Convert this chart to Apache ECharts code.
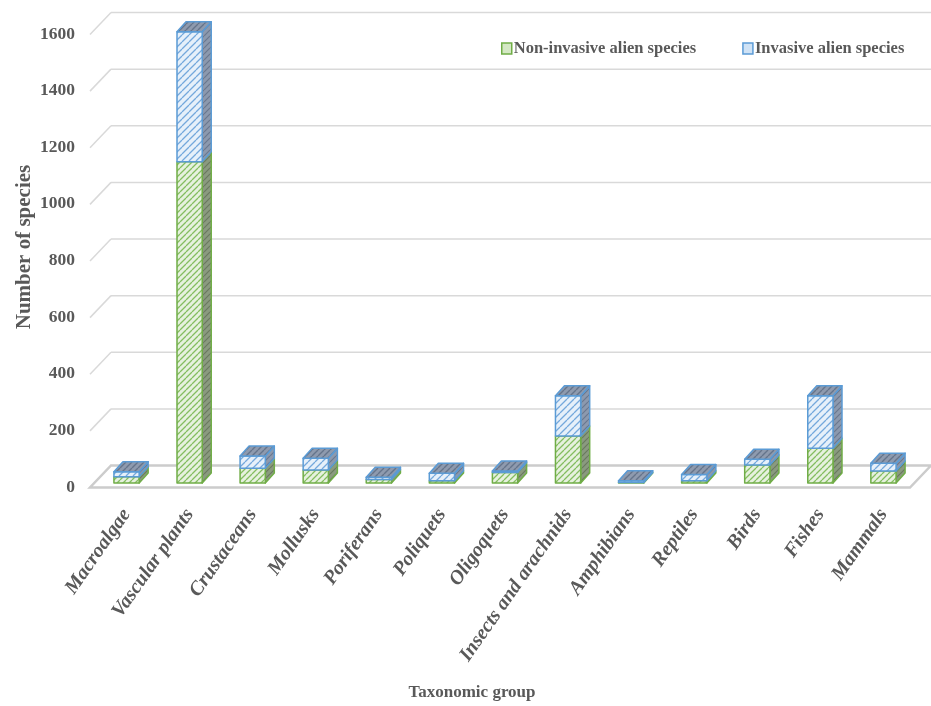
<!DOCTYPE html>
<html>
<head>
<meta charset="utf-8">
<title>Alien species by taxonomic group</title>
<script src="https://cdn.jsdelivr.net/npm/echarts@6/dist/echarts.min.js"></script>
<style>
  html, body { margin: 0; padding: 0; background: #ffffff; }
  #chart { width: 931px; height: 706px; }
</style>
</head>
<body>
<div id="chart"></div>
<script>
// ---- data ----
const categories = ['Macroalgae', 'Vascular plants', 'Crustaceans', 'Mollusks', 'Poriferans',
  'Poliquets', 'Oligoquets', 'Insects and arachnids', 'Amphibians', 'Reptiles', 'Birds',
  'Fishes', 'Mammals'];
const nonInvasive = [22, 1135, 52, 46, 12, 8, 37, 166, 2, 8, 64, 123, 42];
const invasive    = [18, 459, 43, 41, 8, 26, 5, 142, 6, 22, 20, 185, 28];
const yTicks = [0, 200, 400, 600, 800, 1000, 1200, 1400, 1600];
const seriesNames = ['Non-invasive alien species', 'Invasive alien species'];

// ---- pseudo-3D geometry (pixel offsets relative to the bar plane) ----
const DEPTH = [9, -10];     // bar front face -> bar back face
const FRONT = [-5, 4.5];    // bar plane -> floor front edge
const BACK  = [16, -17.5];  // bar plane -> back wall

const FONT = "'Liberation Serif', 'Times New Roman', serif";
const TEXT = '#595959';

function hatch(bg, line, size, width) {
  const c = document.createElement('canvas');
  c.width = c.height = size;
  const g = c.getContext('2d');
  g.fillStyle = bg;
  g.fillRect(0, 0, size, size);
  g.strokeStyle = line;
  g.lineWidth = width;
  g.beginPath();
  for (let k = -1; k <= 1; k++) {
    g.moveTo(k * size, size);
    g.lineTo(k * size + size, 0);
  }
  g.stroke();
  return { image: c, repeat: 'repeat' };
}

const fills = {
  green: {
    front: hatch('#e6f1de', '#84bd60', 6, 1.3),
    side: hatch('#8a9a7f', '#6a795f', 6, 1.2),
    top: hatch('#8e9aae', '#65748b', 6, 1.4),
    stroke: '#70ad47'
  },
  blue: {
    front: hatch('#e6f0fa', '#74a8dc', 7, 1.3),
    side: hatch('#8c99ae', '#6a788f', 6, 1.2),
    top: hatch('#8e9aae', '#65748b', 6, 1.4),
    stroke: '#5b9bd5'
  }
};

// one box segment of a stacked column
function boxItem(api, base, value, style, withTop) {
  const i = api.value(0);
  const p0 = api.coord([i, base]);
  const p1 = api.coord([i, base + value]);
  const bw = api.size([1, 0])[0] * 0.4;
  const x0 = p0[0] - bw / 2, x1 = p0[0] + bw / 2;
  const yb = p0[1], yt = p1[1];
  const dx = DEPTH[0], dy = DEPTH[1];
  const lineStyle = { stroke: style.stroke, lineWidth: 1.5, lineJoin: 'round' };
  const children = [
    { type: 'polygon', shape: { points: [[x1, yb], [x1, yt], [x1 + dx, yt + dy], [x1 + dx, yb + dy]] },
      style: Object.assign({ fill: style.side }, lineStyle) },
    { type: 'rect', shape: { x: x0, y: yt, width: bw, height: yb - yt },
      style: Object.assign({ fill: style.front }, lineStyle) }
  ];
  if (withTop) {
    children.push({ type: 'polygon',
      shape: { points: [[x0, yt], [x1, yt], [x1 + dx, yt + dy], [x0 + dx, yt + dy]] },
      style: Object.assign({ fill: style.top }, lineStyle) });
  }
  return { type: 'group', children: children };
}

// back wall, left wall diagonals and floor outline
function frameItem(params, api) {
  const cs = params.coordSys;
  const xl = cs.x, xr = cs.x + cs.width;
  const grid = { stroke: '#d9d9d9', lineWidth: 1.5 };
  const children = [];
  yTicks.forEach(function (v) {
    if (v === 0) return;
    const y = api.coord([0, v])[1];
    children.push({ type: 'line',
      shape: { x1: xl + BACK[0], y1: y + BACK[1], x2: xr + BACK[0], y2: y + BACK[1] }, style: grid });
    children.push({ type: 'line',
      shape: { x1: xl + FRONT[0], y1: y + FRONT[1], x2: xl + BACK[0], y2: y + BACK[1] }, style: grid });
  });
  const y0 = api.coord([0, 0])[1];
  children.push({ type: 'polygon',
    shape: { points: [[xl + FRONT[0], y0 + FRONT[1]], [xr + FRONT[0], y0 + FRONT[1]],
      [xr + BACK[0], y0 + BACK[1]], [xl + BACK[0], y0 + BACK[1]]] },
    style: { fill: 'none', stroke: '#cccccc', lineWidth: 2.5 } });
  return { type: 'group', children: children };
}

const chart = echarts.init(document.getElementById('chart'), null, { renderer: 'canvas' });

chart.setOption({
  animation: false,
  backgroundColor: '#ffffff',
  grid: { left: 95, right: 16, top: 30, bottom: 223 },
  legend: {
    left: 496, top: 35,
    itemWidth: 10, itemHeight: 11, itemGap: 46,
    icon: 'rect',
    textStyle: { fontFamily: FONT, fontWeight: 'bold', fontSize: 16.5, color: TEXT, padding: [0, 0, 0, -3] },
    data: [
      { name: seriesNames[0], itemStyle: { color: '#d4e8c4', borderColor: '#70ad47', borderWidth: 1.5 } },
      { name: seriesNames[1], itemStyle: { color: '#cfe2f5', borderColor: '#5b9bd5', borderWidth: 1.5 } }
    ]
  },
  xAxis: {
    type: 'category',
    data: categories,
    axisLine: { show: false },
    axisTick: { show: false },
    axisLabel: {
      interval: 0, rotate: 55, margin: 28,
      fontFamily: FONT, fontWeight: 'bold', fontStyle: 'italic', fontSize: 20, color: TEXT
    },
    splitLine: { show: false }
  },
  yAxis: {
    type: 'value',
    min: yTicks[0], max: yTicks[yTicks.length - 1], interval: yTicks[1] - yTicks[0],
    axisLine: { show: false },
    axisTick: { show: false },
    splitLine: { show: false },
    axisLabel: {
      margin: 20,
      formatter: function (v) { return '{v|' + v + '}'; },
      rich: { v: { fontFamily: FONT, fontWeight: 'bold', fontSize: 17.5, color: TEXT, padding: [8, 0, 0, 0] } }
    }
  },
  graphic: [
    { type: 'text', x: 25, y: 247, rotation: Math.PI / 2,
      style: { text: 'Number of species', align: 'center', verticalAlign: 'middle',
        font: 'bold 21px ' + FONT, fill: TEXT } },
    { type: 'text', x: 472, y: 693,
      style: { text: 'Taxonomic group', align: 'center', verticalAlign: 'middle',
        font: 'bold 17px ' + FONT, fill: TEXT } }
  ],
  series: [
    {
      type: 'custom', name: 'frame', silent: true,
      data: [[0, 0]],
      renderItem: frameItem
    },
    {
      type: 'custom', name: seriesNames[0],
      itemStyle: { color: '#d4e8c4', borderColor: '#70ad47' },
      data: nonInvasive.map(function (v, i) { return [i, v]; }),
      renderItem: function (params, api) {
        const i = api.value(0);
        return boxItem(api, 0, api.value(1), fills.green, invasive[i] === 0);
      }
    },
    {
      type: 'custom', name: seriesNames[1],
      itemStyle: { color: '#cfe2f5', borderColor: '#5b9bd5' },
      data: invasive.map(function (v, i) { return [i, v]; }),
      renderItem: function (params, api) {
        const i = api.value(0);
        return boxItem(api, nonInvasive[i], api.value(1), fills.blue, true);
      }
    }
  ]
});
</script>
</body>
</html>
